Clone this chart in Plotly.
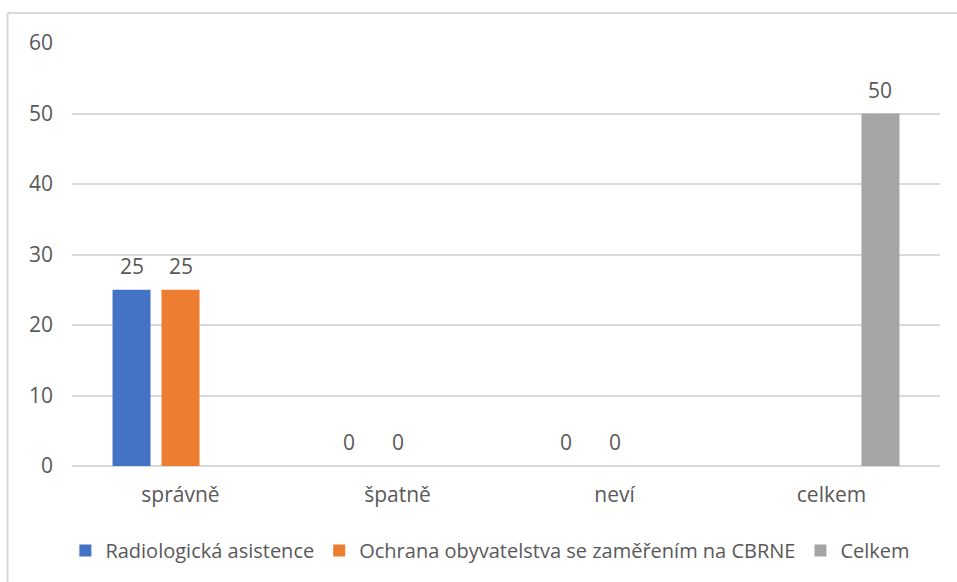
import plotly.graph_objects as go

# Data
categories = ["správně", "špatně", "neví", "celkem"]
series_names = [
    "Radiologická asistence",
    "Ochrana obyvatelstva se zaměřením na CBRNE",
    "Celkem",
]
radiologicka = [25, 0, 0, None]
ochrana = [25, 0, 0, None]
celkem = [None, None, None, 50]
y_ticks = [0, 10, 20, 30, 40, 50, 60]

colors = ["#4472C4", "#ED7D31", "#A5A5A5"]
text_color = "#595959"
grid_color = "#D9D9D9"
font_family = "'Open Sans', sans-serif"
font_size = 21
legend_font_size = 20

BARGAP = 0.323
BARGROUPGAP = 0.224

fig = go.Figure()
all_series = [radiologicka, ochrana, celkem]
for name, vals, col in zip(series_names, all_series, colors):
    fig.add_trace(go.Bar(
        x=categories,
        y=vals,
        name=name,
        marker=dict(color=col, line=dict(width=0)),
        hoverinfo="x+y+name",
    ))

# Value labels above each bar (grouped slot offsets)
n = len(all_series)
slot = (1 - BARGAP) / n
for k, vals in enumerate(all_series):
    for i, v in enumerate(vals):
        if v is None:
            continue
        fig.add_annotation(
            x=i + (k - (n - 1) / 2) * slot,
            y=v,
            xref="x", yref="y",
            text=str(v),
            showarrow=False,
            yanchor="bottom",
            yshift=8,
            font=dict(family=font_family, size=font_size, color=text_color),
        )

# Outer chart frame (top and left edges)
fig.add_shape(type="line", xref="paper", yref="paper",
              x0=-0.0743, x1=1.05, y0=1.0709, y1=1.0709,
              line=dict(color=grid_color, width=2))
fig.add_shape(type="line", xref="paper", yref="paper",
              x0=-0.0743, x1=-0.0743, y0=1.0709, y1=-0.30,
              line=dict(color=grid_color, width=2))

fig.update_layout(
    width=957,
    height=582,
    margin=dict(l=72, r=17, t=43, b=116, autoexpand=False),
    paper_bgcolor="white",
    plot_bgcolor="white",
    barmode="group",
    bargap=BARGAP,
    bargroupgap=BARGROUPGAP,
    font=dict(family=font_family, size=font_size, color=text_color),
    showlegend=True,
    legend=dict(
        orientation="h",
        x=0.482, xanchor="center",
        y=-0.20, yanchor="middle",
        font=dict(family=font_family, size=legend_font_size, color=text_color),
        itemwidth=30,
        traceorder="normal",
    ),
    xaxis=dict(
        type="category",
        showgrid=False,
        showline=False,
        zeroline=False,
        ticks="",
        ticklabelstandoff=14,
        tickfont=dict(family=font_family, size=font_size, color=text_color),
        fixedrange=True,
    ),
    yaxis=dict(
        range=[0, 60],
        tickvals=y_ticks,
        showgrid=True,
        gridcolor=grid_color,
        gridwidth=2,
        zeroline=True,
        zerolinecolor=grid_color,
        zerolinewidth=2,
        showline=False,
        ticks="",
        ticklabelstandoff=18,
        tickfont=dict(family=font_family, size=font_size, color=text_color),
        fixedrange=True,
    ),
)

fig.write_html("out.html")
